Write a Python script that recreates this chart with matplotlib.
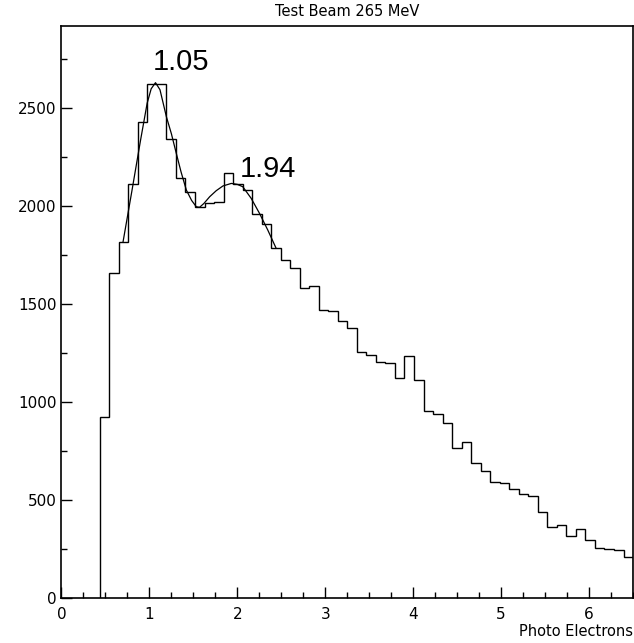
import numpy as np
import matplotlib
matplotlib.use("Agg")
from matplotlib import pyplot as plt
from matplotlib.ticker import MultipleLocator

# histogram: counts per bin, bins start at bin_lo with fixed width
bin_lo = 0.435
bin_width = 0.1083
counts = [
    926, 1658, 1819, 2114, 2432, 2624, 2624, 2343, 2143, 2075,
    1998, 2015, 2020, 2168, 2115, 2081, 1961, 1908, 1786, 1728,
    1687, 1585, 1592, 1471, 1467, 1416, 1378, 1255, 1241, 1206,
    1200, 1122, 1235, 1116, 954, 939, 893, 768, 796, 692,
    650, 595, 587, 556, 530, 522, 439, 365, 374, 316,
    355, 297, 256, 250, 246, 212,
]

# fitted curve
fit_x = [0.70, 0.80, 0.90, 0.974, 1.02, 1.069, 1.12, 1.193, 1.25, 1.30,
         1.36, 1.42, 1.48, 1.533, 1.57, 1.62, 1.685, 1.76, 1.836, 1.931,
         2.00, 2.062, 2.157, 2.252, 2.346, 2.441]
fit_y = [1819, 2077, 2340, 2526, 2600, 2631, 2595, 2457, 2370, 2280,
         2175, 2083, 2030, 1998, 1995, 2015, 2049, 2080, 2104, 2117,
         2112, 2100, 2041, 1964, 1879, 1786]

peak_labels = ["1.05", "1.94"]
peak_label_pos = [(1.355, 2739), (2.343, 2190)]

title = "Test Beam 265 MeV"
xlabel = "Photo Electrons"

fig = plt.figure(figsize=(6.34, 6.43), dpi=100)
ax = fig.add_axes([0.097, 0.0695, 0.9015, 0.89])

edges = bin_lo + bin_width * np.arange(len(counts) + 1)
ax.stairs(counts, edges, baseline=0, color="black", linewidth=1.0)
ax.plot(fit_x, fit_y, color="black", linewidth=0.9)

for lab, (x, y) in zip(peak_labels, peak_label_pos):
    ax.text(x, y, lab, ha="center", va="center", fontsize=21,
            family="Liberation Sans")

ax.set_xlim(0, 6.5)
ax.set_ylim(0, 2920)

ax.xaxis.set_major_locator(MultipleLocator(1))
ax.xaxis.set_minor_locator(MultipleLocator(0.25))
ax.yaxis.set_major_locator(MultipleLocator(500))
ax.yaxis.set_minor_locator(MultipleLocator(250))
ax.tick_params(which="both", direction="in", top=False, right=False,
               labelsize=11, width=1.0)
ax.tick_params(which="major", length=8)
ax.tick_params(which="minor", length=4)
ax.tick_params(axis="x", pad=6)
for s in ax.spines.values():
    s.set_linewidth(1.2)

fig.text(0.5475, 0.982, title, ha="center", va="center", fontsize=10.5)
fig.text(0.998, 0.018, xlabel, ha="right", va="center", fontsize=10.5)

fig.savefig("out.png", dpi=100)
